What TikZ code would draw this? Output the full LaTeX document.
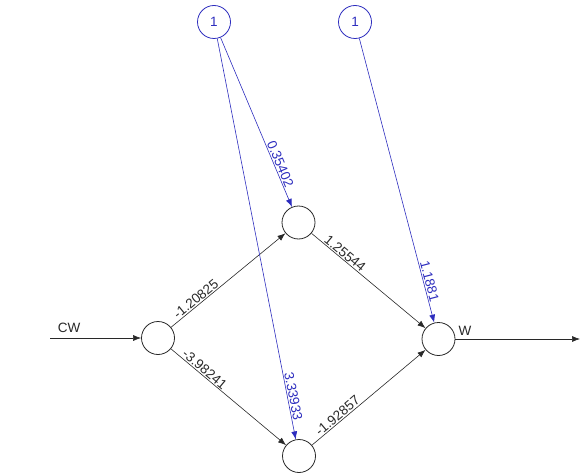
\documentclass[tikz,border=0pt]{standalone}
\usepackage{fontspec}
\setmainfont{Liberation Sans}
\usetikzlibrary{arrows.meta}
\definecolor{biasblue}{RGB}{45,45,190}
\definecolor{linegray}{RGB}{40,40,40}
\begin{document}
\begin{tikzpicture}[x=1pt,y=-1pt,
  neuron/.style={circle,draw=linegray,minimum size=33pt,inner sep=0pt,line width=0.8pt},
  biasnode/.style={circle,draw=biasblue,text=biasblue,minimum size=33pt,inner sep=0pt,line width=0.8pt,font=\fontsize{13.5}{13.5}\selectfont},
  conn/.style={draw=linegray,line width=0.6pt,-{Latex[length=8pt,width=6pt]}},
  bconn/.style={draw=biasblue,line width=0.6pt,-{Latex[length=8pt,width=6pt]}},
  wlab/.style={sloped,above,inner sep=1pt,font=\fontsize{13.5}{13.5}\selectfont},
  namelab/.style={inner sep=0pt,font=\fontsize{13.5}{13.5}\selectfont,text=linegray}
]
\useasboundingbox (0,0) rectangle (583,476);
\node[neuron] (I) at (158,338) {};
\node[neuron] (H1) at (298.5,222.5) {};
\node[neuron] (H2) at (299,456) {};
\node[neuron] (O) at (438.5,339) {};
\node[biasnode] (B1) at (214,22) {1};
\node[biasnode] (B2) at (355,22) {1};
\coordinate (in) at (50,338);
\coordinate (out) at (580,339);
\node[namelab] (cw) at (69,328) {CW};
\node[namelab] (wl) at (465,331) {W};
\draw[conn] (in) -- (I);
\draw[conn] (O) -- (out);
\draw[conn] (I) -- node[wlab,pos=0.25,text=linegray] {-1.20825} (H1);
\draw[conn] (I) -- node[wlab,pos=0.26,text=linegray] {-3.98241} (H2);
\draw[conn] (H1) -- node[wlab,pos=0.26,text=linegray] {1.25544} (O);
\draw[conn] (H2) -- node[wlab,pos=0.26,text=linegray] {-1.92857} (O);
\draw[bconn] (B1) -- node[wlab,pos=0.76,text=biasblue] {0.35402} (H1);
\draw[bconn] (B1) -- node[wlab,pos=0.895,text=biasblue] {3.33933} (H2);
\draw[bconn] (B2) -- node[wlab,pos=0.86,text=biasblue] {1.1881} (O);
\end{tikzpicture}
\end{document}
